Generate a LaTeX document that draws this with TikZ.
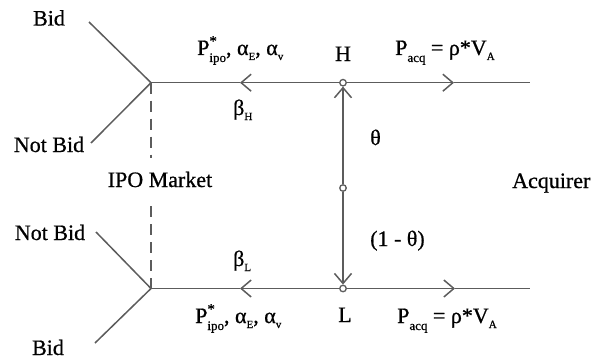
\documentclass[tikz,border=0pt]{standalone}
\usepackage{fontspec}
\setmainfont{Liberation Serif}
\newfontfamily\tnr{Liberation Serif}[FakeBold=0.7]
\usetikzlibrary{arrows.meta}
\newcommand\lsub[1]{\raisebox{-7pt}{\fontsize{13}{13}\selectfont #1}}
\newcommand\ssub[1]{\raisebox{-5pt}{\fontsize{11}{11}\selectfont #1}}
\newcommand\pipo{P\rlap{\raisebox{9pt}{\fontsize{15}{15}\selectfont *}}\lsub{ipo}, α\ssub{E}, α\ssub{v}}
\newcommand\pacq{P\lsub{acq} = ρ*V\ssub{A}}
\begin{document}
\begin{tikzpicture}[x=1pt,y=-1pt,
  ln/.style={draw=black!64,line width=1.5pt},
  arr/.style={ln,-{Straight Barb[length=10pt,width=17pt]}},
  dsh/.style={ln,dash pattern=on 11pt off 7pt},
  dot/.style={circle,draw=black!64,line width=1.3pt,fill=white,minimum size=6.5pt,inner sep=0pt},
  lbl/.style={inner sep=0pt,font=\tnr\fontsize{22}{24}\selectfont}]
\useasboundingbox (0,0) rectangle (591,361);
% junction points
\node[dot] (H) at (343,82.7) {};
\node[dot] (M) at (343,188) {};
\node[dot] (L) at (343,288.5) {};
\coordinate (VH) at (151,82.7);
\coordinate (VL) at (151,288.5);
\coordinate (RH) at (530,82.7);
\coordinate (RL) at (530,288.5);
\coordinate (bidTe) at (89,22);
\coordinate (nbidTe) at (91,143);
\coordinate (nbidLe) at (96,232);
\coordinate (bidLe) at (95,343);
\coordinate (aTL) at (240,82.7);
\coordinate (aTR) at (454,82.7);
\coordinate (aBL) at (240,288.5);
\coordinate (aBR) at (455,288.5);
\coordinate (dA) at (151,158);
\coordinate (dB) at (151,205);
% branches
\draw[ln] (bidTe) -- (VH) -- (nbidTe);
\draw[ln] (nbidLe) -- (VL) -- (bidLe);
\draw[dsh] (VH) -- (dA);
\draw[dsh] (VL) -- (dB);
% horizontal lines
\draw[arr] (H) -- (aTL);
\draw[ln] (aTL) -- (VH);
\draw[arr] (H) -- (aTR);
\draw[ln] (aTR) -- (RH);
\draw[arr] (L) -- (aBL);
\draw[ln] (aBL) -- (VL);
\draw[arr] (L) -- (aBR);
\draw[ln] (aBR) -- (RL);
% vertical
\draw[arr] (M) -- (H);
\draw[arr] (M) -- (L);
% labels
\node[lbl,anchor=base] (tBid) at (49,25.5) {Bid};
\node[lbl,anchor=base] (tNBid) at (49,152) {Not Bid};
\node[lbl,anchor=base] (tIPO) at (160,187) {IPO Market};
\node[lbl,anchor=base] (tNBid2) at (50,240) {Not Bid};
\node[lbl,anchor=base] (tBid2) at (48,355) {Bid};
\node[lbl,anchor=base west] (pT) at (197,55) {\pipo};
\node[lbl,anchor=base west] (pB) at (195,323) {\pipo};
\node[lbl,anchor=base west] (qT) at (395,55) {\pacq};
\node[lbl,anchor=base west] (qB) at (397,323) {\pacq};
\node[lbl,anchor=base west] (bH) at (233,115) {β\ssub{H}};
\node[lbl,anchor=base west] (bL) at (233,266) {β\ssub{L}};
\node[lbl,anchor=base] (tH) at (343,61) {H};
\node[lbl,anchor=base] (tL) at (345,322) {L};
\node[lbl,anchor=base] (th) at (375.5,145) {θ};
\node[lbl,anchor=base west] (th2) at (370,246) {(1 - θ)};
\node[lbl,anchor=base west] (acq) at (512,188) {Acquirer};
\end{tikzpicture}
\end{document}
